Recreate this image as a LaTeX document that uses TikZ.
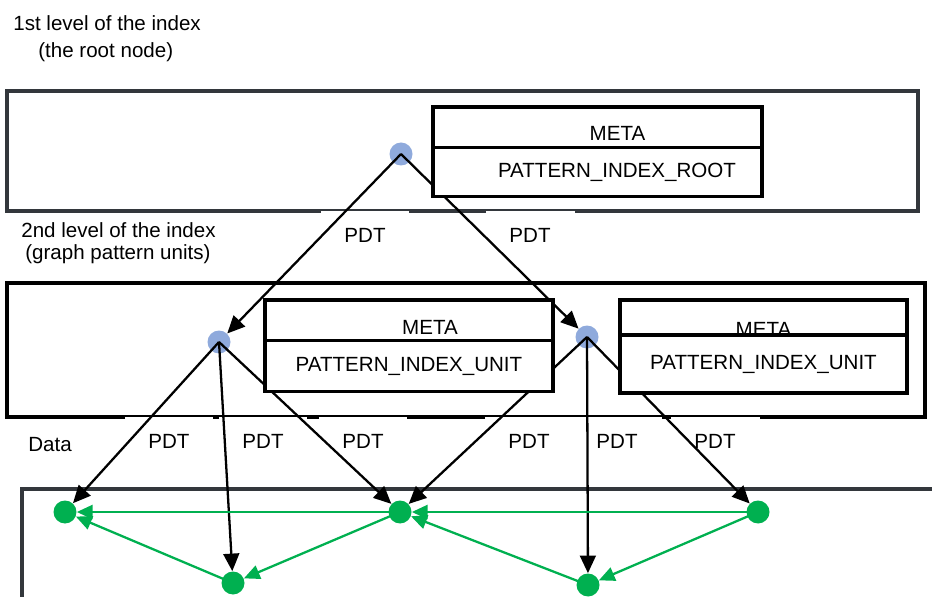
\documentclass[tikz,border=0pt]{standalone}
\usepackage{fontspec}
\setmainfont{Liberation Sans}
\definecolor{frameGray}{RGB}{51, 55, 60}
\definecolor{nodeBlue}{RGB}{143, 170, 220}
\definecolor{dataGreen}{RGB}{0, 176, 80}
\usetikzlibrary{positioning, arrows.meta}

\begin{document}
\begin{tikzpicture}[
    x=0.02cm, y=-0.02cm,
    font=\fontsize{11.7}{14}\selectfont,
    frame/.style={draw=frameGray, line width=2.2pt},
    caption/.style={anchor=west, inner sep=0pt},
    pdt/.style={fill=white, anchor=north, minimum width=1.78cm,
                minimum height=1.0cm, inner sep=0pt},
    idxnode/.style={circle, fill=nodeBlue, minimum size=0.46cm, inner sep=0pt},
    datanode/.style={circle, fill=dataGreen, minimum size=0.46cm, inner sep=0pt},
    tree/.style={draw=black, line width=1.3pt, -{Triangle[length=10pt, width=9pt]}},
    chain/.style={draw=dataGreen, line width=1.3pt, -{Triangle[length=9pt, width=8pt]}},
    row/.style={rectangle, draw=black, fill=white, line width=1.9pt, inner sep=0pt},
  ]
    \useasboundingbox (0,0) rectangle (932,597);

    % levels
    \node[caption] (L1A) at (13,23) {1st level of the index};
    \node[caption] (L1B) at (38,52) {(the root node)};
    \node[caption] (L2A) at (21,230) {2nd level of the index};
    \node[caption] (L2B) at (25,254) {(graph pattern units)};
    \node[caption] (DATA) at (28,445) {Data};

    \draw[frame] (7,91) rectangle (918,211);
    \draw[frame, draw=black] (7,283) rectangle (925,417);
    \draw[frame, line width=1.8pt] (22,597) -- (22,489) -- (940,489);

    % edge labels
    \node[pdt] (P0) at (365,210.5) {PDT};
    \node[pdt] (P1) at (530,210.5) {PDT};
    \node[pdt] (P2) at (169,416.5) {PDT};
    \node[pdt] (P3) at (263,416.5) {PDT};
    \node[pdt] (P4) at (363,416.5) {PDT};
    \node[pdt] (P5) at (529,416.5) {PDT};
    \node[pdt] (P6) at (617,416.5) {PDT};
    \node[pdt] (P7) at (715,416.5) {PDT};

    % nodes
    \node[idxnode] (ROOT) at (401,154) {};
    \node[idxnode] (U1) at (219,342) {};
    \node[idxnode] (U2) at (587,337) {};
    \node[datanode] (D1) at (65,512) {};
    \node[datanode] (D2) at (233,583) {};
    \node[datanode] (D3) at (400,512) {};
    \node[datanode] (D4) at (588,585) {};
    \node[datanode] (D5) at (758,512) {};

    \draw[tree] (ROOT.center) -- (U1);
    \draw[tree] (ROOT.center) -- (U2);
    \draw[tree] (U1.center) -- (D1);
    \draw[tree] (U1.center) -- (D2);
    \draw[tree] (U1.center) -- (D3);
    \draw[tree] (U2.center) -- (D3);
    \draw[tree] (U2.center) -- (D4);
    \draw[tree] (U2.center) -- (D5);

    \draw[chain] (D3.center) -- (D1);
    \draw[chain] (D5.center) -- (D3);
    \draw[chain] (D2.center) -- (D1);
    \draw[chain] (D3.center) -- (D2);
    \draw[chain] (D4.center) -- (D3);
    \draw[chain] (D5.center) -- (D4);

    % tables
    \node[row, minimum width=6.58cm, minimum height=1.04cm] (RMETA)
      at (597.5,133) {\hspace{0.8cm}META};
    \node[row, minimum width=6.58cm, minimum height=0.98cm] (RNAME)
      at (597.5,172) {\hspace{0.78cm}PATTERN\_INDEX\_ROOT};
    \node[row, minimum width=5.76cm, minimum height=1.08cm] (U1META)
      at (409,327) {\hspace{0.84cm}META};
    \node[row, minimum width=5.76cm, minimum height=1.02cm] (U1NAME)
      at (409,366) {PATTERN\_INDEX\_UNIT};
    \node[row, minimum width=5.74cm, minimum height=1.16cm] (U2META)
      at (763.5,329) {META};
    \node[row, minimum width=5.74cm, minimum height=1.16cm] (U2NAME)
      at (763.5,364) {PATTERN\_INDEX\_UNIT};
  \end{tikzpicture}
\end{document}
